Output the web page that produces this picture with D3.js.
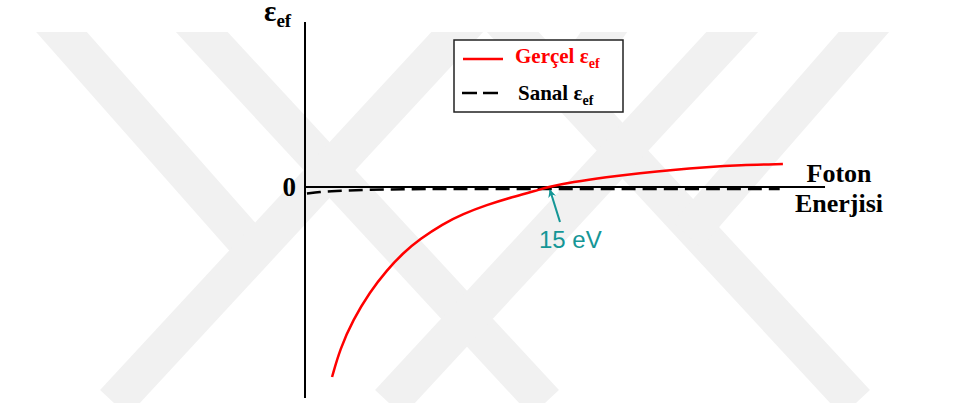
<!DOCTYPE html>
<html>
<head>
<meta charset="utf-8">
<script src="https://cdn.jsdelivr.net/npm/d3@7"></script>
<style>
  body { margin: 0; background: #fff; }
  svg { display: block; }
</style>
</head>
<body>
<div id="chart"></div>
<script>
// Real part of the effective dielectric function (photon energy in eV)
const realEnergy = [1.67, 2.16, 2.96, 4.0, 5.06, 6.05, 7.1, 8.5, 9.75, 11.2, 12.8, 14.3, 15, 16.5, 18.6, 20.7, 22.7, 24.8, 26.8, 29.5];
const realEps    = [-1.90, -1.62, -1.33, -1.05, -0.83, -0.66, -0.52, -0.37, -0.27, -0.18, -0.10, -0.035, 0, 0.05, 0.10, 0.14, 0.17, 0.20, 0.22, 0.23];

// Imaginary part
const imagEnergy = [0.12, 0.93, 1.73, 3.8, 5.9, 9, 15, 22, 29.3];
const imagEps    = [-0.065, -0.05, -0.04, -0.028, -0.022, -0.02, -0.02, -0.02, -0.02];

const legendLabels = ["Gerçel", "Sanal"];
const crossEnergy = 15;
const crossLabel = "15 eV";

const width = 978, height = 405;

const svg = d3.select("#chart")
  .append("svg")
  .attr("width", width)
  .attr("height", height);

// faint background watermark (diagonal bands)
const wm = svg.append("g").attr("clip-path", "url(#wmclip)");
svg.append("defs").append("clipPath").attr("id", "wmclip")
  .append("rect").attr("x", 0).attr("y", 32).attr("width", width).attr("height", 371);
const bands = [
  [35, 32, 262, 259], [174, 32, 545, 403], [485, 32, 114, 403],
  [485, 32, 856, 403], [760, 32, 389, 403], [890, 32, 687, 235], [625, 32, 555, 102]
];
wm.selectAll("line")
  .data(bands)
  .join("line")
    .attr("x1", d => d[0]).attr("y1", d => d[1] - 30)
    .attr("x2", d => d[2]).attr("y2", d => d[3])
    .attr("stroke", "#f1f1f1")
    .attr("stroke-width", 38);

// scales
const x = d3.scaleLinear().domain([0, 30]).range([305, 791]);
const y = d3.scaleLinear().domain([-2.11, 1.65]).range([398, 22]);

// axes (no ticks)
svg.append("line")
  .attr("x1", x(0)).attr("x2", x(0))
  .attr("y1", y(1.65)).attr("y2", y(-2.11))
  .attr("stroke", "black").attr("stroke-width", 2);
svg.append("line")
  .attr("x1", x(0)).attr("x2", x(32.1))
  .attr("y1", y(0)).attr("y2", y(0))
  .attr("stroke", "black").attr("stroke-width", 2);

// imaginary part (dashed)
svg.append("path")
  .datum(imagEnergy.map((e, i) => [e, imagEps[i]]))
  .attr("d", d3.line().x(d => x(d[0])).y(d => y(d[1])).curve(d3.curveBasis))
  .attr("fill", "none")
  .attr("stroke", "black")
  .attr("stroke-width", 2.5)
  .attr("stroke-dasharray", "14,7");

// real part
svg.append("path")
  .datum(realEnergy.map((e, i) => [e, realEps[i]]))
  .attr("d", d3.line().x(d => x(d[0])).y(d => y(d[1])).curve(d3.curveBasis))
  .attr("fill", "none")
  .attr("stroke", "#ff0000")
  .attr("stroke-width", 2.5);

// labels
const serif = "'Liberation Serif', 'Times New Roman', serif";

const yLab = svg.append("text")
  .attr("x", 264).attr("y", 21)
  .attr("font-family", serif).attr("font-weight", "bold")
  .attr("font-size", 29);
yLab.append("tspan").text("ε");
yLab.append("tspan").attr("font-size", 19).attr("dy", 6).text("ef");

svg.append("text")
  .attr("x", 296).attr("y", y(0) + 9)
  .attr("text-anchor", "end")
  .attr("font-family", serif).attr("font-weight", "bold")
  .attr("font-size", 27)
  .text("0");

svg.append("text")
  .attr("x", 839).attr("y", 182)
  .attr("text-anchor", "middle")
  .attr("font-family", serif).attr("font-weight", "bold")
  .attr("font-size", 26)
  .text("Foton");
svg.append("text")
  .attr("x", 839).attr("y", 212)
  .attr("text-anchor", "middle")
  .attr("font-family", serif).attr("font-weight", "bold")
  .attr("font-size", 26)
  .text("Enerjisi");

// 15 eV annotation
const teal = "#159696";
svg.append("defs").append("marker")
  .attr("id", "arrow")
  .attr("viewBox", "0 0 10 10")
  .attr("refX", 9).attr("refY", 5)
  .attr("markerWidth", 4).attr("markerHeight", 4)
  .attr("orient", "auto")
  .append("path").attr("d", "M0,0 L10,5 L0,10 L3,5 Z").attr("fill", teal);
svg.append("line")
  .attr("x1", x(crossEnergy) + 12).attr("y1", 222)
  .attr("x2", x(crossEnergy) + 2).attr("y2", y(0) + 3)
  .attr("stroke", teal).attr("stroke-width", 2)
  .attr("marker-end", "url(#arrow)");
svg.append("text")
  .attr("x", 539).attr("y", 248)
  .attr("font-family", "'Liberation Sans', Arial, sans-serif")
  .attr("font-size", 24)
  .attr("fill", teal)
  .text(crossLabel);

// legend
const legend = svg.append("g");
legend.append("rect")
  .attr("x", 454).attr("y", 40).attr("width", 169).attr("height", 72)
  .attr("fill", "white").attr("stroke", "#222").attr("stroke-width", 1.5);
legend.append("line")
  .attr("x1", 463).attr("x2", 503).attr("y1", 59).attr("y2", 59)
  .attr("stroke", "#ff0000").attr("stroke-width", 2.5);
legend.append("line")
  .attr("x1", 462).attr("x2", 503).attr("y1", 93).attr("y2", 93)
  .attr("stroke", "black").attr("stroke-width", 2.5)
  .attr("stroke-dasharray", "15,6");

const lg1 = legend.append("text")
  .attr("x", 515).attr("y", 63)
  .attr("font-family", serif).attr("font-weight", "bold")
  .attr("font-size", 21).attr("fill", "#ff0000");
lg1.append("tspan").text(legendLabels[0] + " ε");
lg1.append("tspan").attr("font-size", 14).attr("dy", 5).text("ef");

const lg2 = legend.append("text")
  .attr("x", 518).attr("y", 100)
  .attr("font-family", serif).attr("font-weight", "bold")
  .attr("font-size", 21).attr("fill", "black");
lg2.append("tspan").text(legendLabels[1] + " ε");
lg2.append("tspan").attr("font-size", 14).attr("dy", 5).text("ef");
</script>
</body>
</html>
